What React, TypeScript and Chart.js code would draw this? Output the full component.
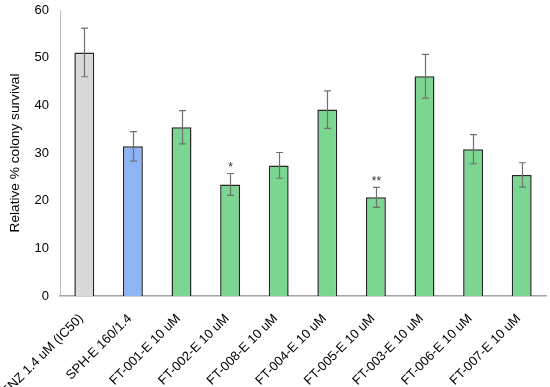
import React, { useEffect, useRef } from "react";
import { Chart, registerables } from "chart.js";

Chart.register(...registerables);

const categories = [
  "ENZ 1.4 uM (IC50)",
  "SPH-E 160/1.4",
  "FT-001-E 10 uM",
  "FT-002-E 10 uM",
  "FT-008-E 10 uM",
  "FT-004-E 10 uM",
  "FT-005-E 10 uM",
  "FT-003-E 10 uM",
  "FT-006-E 10 uM",
  "FT-007-E 10 uM",
];
const values = [51.1, 31.4, 35.4, 23.4, 27.4, 39.1, 20.7, 46.1, 30.8, 25.4];
const errors = [5.1, 3.1, 3.5, 2.3, 2.7, 3.95, 2.1, 4.6, 3.05, 2.55];
const significance = ["", "", "", "*", "", "", "**", "", "", ""];
const barColors = [
  "#D9D9D9",
  "#8FB4F5",
  "#7AD690",
  "#7AD690",
  "#7AD690",
  "#7AD690",
  "#7AD690",
  "#7AD690",
  "#7AD690",
  "#7AD690",
];
const yTicks = [0, 10, 20, 30, 40, 50, 60];

const FONT = "'Liberation Sans', Arial, sans-serif";

const errorBarPlugin = {
  id: "errorBars",
  afterDatasetsDraw(chart: any) {
    const ctx = chart.ctx;
    const x = chart.scales.x;
    const y = chart.scales.y;
    ctx.save();
    ctx.strokeStyle = "#707070";
    ctx.lineWidth = 1.2;
    values.forEach((v, i) => {
      const cx = Math.round(x.getPixelForValue(i)) + 0.5;
      const yTop = y.getPixelForValue(v + errors[i]);
      const yBot = y.getPixelForValue(v - errors[i]);
      ctx.beginPath();
      ctx.moveTo(cx, yTop);
      ctx.lineTo(cx, yBot);
      ctx.moveTo(cx - 3.5, yTop);
      ctx.lineTo(cx + 3.5, yTop);
      ctx.moveTo(cx - 3.5, yBot);
      ctx.lineTo(cx + 3.5, yBot);
      ctx.stroke();
      if (significance[i]) {
        ctx.fillStyle = "#333";
        ctx.font = `12px ${FONT}`;
        ctx.textAlign = "center";
        ctx.textBaseline = "middle";
        ctx.fillText(significance[i], cx, yTop - 6);
      }
    });
    ctx.restore();
  },
};

export default function App() {
  const ref = useRef<HTMLCanvasElement | null>(null);
  useEffect(() => {
    document.body.style.margin = "0";
    const chart = new Chart(ref.current as HTMLCanvasElement, {
      type: "bar",
      data: {
        labels: categories,
        datasets: [
          {
            data: values,
            backgroundColor: barColors,
            borderColor: "#262626",
            borderWidth: 1.5,
            barPercentage: 0.41,
            categoryPercentage: 1,
          },
        ],
      },
      options: {
        animation: false,
        responsive: false,
        layout: { padding: { top: 10, right: 4, left: 0, bottom: 0 } },
        plugins: { legend: { display: false }, tooltip: { enabled: false } },
        scales: {
          x: {
            grid: { display: false, drawTicks: false },
            border: { display: true, color: "#A6A6A6", width: 1.5 },
            ticks: {
              color: "#000",
              font: { family: FONT, size: 13 },
              maxRotation: 45,
              minRotation: 45,
              autoSkip: false,
              padding: 15,
              labelOffset: -3,
            },
            afterFit(scale: any) {
              scale.height = 91;
              scale.paddingLeft = 0;
              scale.paddingRight = 0;
            },
          },
          y: {
            min: 0,
            max: 60,
            afterBuildTicks(scale: any) {
              scale.ticks = yTicks.map((v) => ({ value: v }));
            },
            grid: { display: false, drawTicks: false },
            border: { display: true, color: "#BFBFBF", width: 1 },
            ticks: {
              color: "#000",
              font: { family: FONT, size: 13 },
              padding: 11,
            },
            title: {
              display: true,
              text: "Relative % colony survival",
              color: "#000",
              font: { family: FONT, size: 13.7 },
              padding: { top: 7, bottom: 0 },
            },
            afterFit(scale: any) {
              scale.width = 60;
              scale.paddingTop = 0;
              scale.paddingBottom = 0;
            },
          },
        },
      },
      plugins: [errorBarPlugin],
    });
    return () => chart.destroy();
  }, []);
  return <canvas ref={ref} width={550} height={387} style={{ display: "block" }} />;
}
